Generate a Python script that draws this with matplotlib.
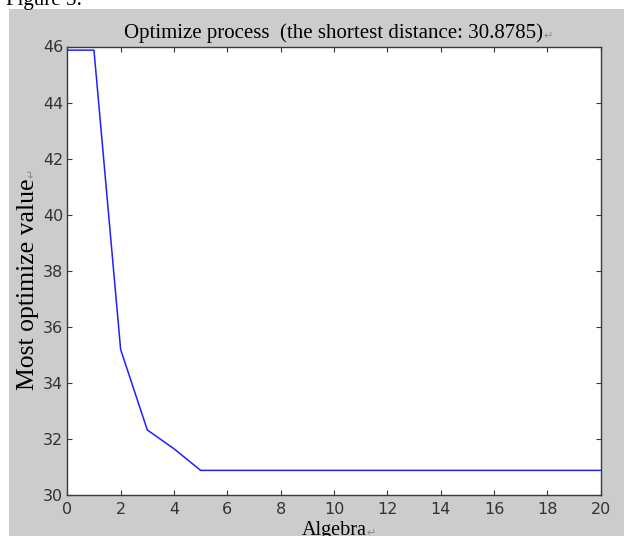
import matplotlib
matplotlib.use("Agg")
import matplotlib.pyplot as plt
from matplotlib.patches import Rectangle

# data
generations = list(range(0, 21))
best_values = [45.87, 45.87, 35.19, 32.32, 31.65, 30.8785, 30.8785, 30.8785, 30.8785,
               30.8785, 30.8785, 30.8785, 30.8785, 30.8785, 30.8785, 30.8785,
               30.8785, 30.8785, 30.8785, 30.8785, 30.8785]
x_ticks = list(range(0, 21, 2))
y_ticks = list(range(30, 47, 2))

W, H = 624, 536
fig = plt.figure(figsize=(W / 100, H / 100), dpi=100, facecolor="white")

# grey MATLAB figure window, kept behind the axes
fig.patches.append(Rectangle((9 / W, 0), 1 - 9 / W, 1 - 9 / H, transform=fig.transFigure,
                             facecolor="#cccccc", edgecolor="none", zorder=-5))

serif = ["Liberation Serif", "DejaVu Sans"]
narrow = ["Liberation Sans Narrow", "DejaVu Sans"]

fig.text(6 / W, 1 - 5 / H, "Figure 5:", family=serif, fontsize=15, va="baseline",
         ha="left", color="black")

ax = fig.add_axes([67.3 / W, 41 / H, 533.4 / W, 448.5 / H])
ax.set_facecolor("white")
ax.plot(generations, best_values, color="#2020ff", lw=1.1)

ax.set_xlim(0, 20)
ax.set_ylim(30, 46)
ax.set_xticks(x_ticks)
ax.set_yticks(y_ticks)
ax.tick_params(direction="in", top=True, right=True, length=3.8, width=0.8,
               color="#3a3a3a", labelcolor="#333333", labelsize=11.5)
ax.tick_params(axis="x", pad=5)
ax.tick_params(axis="y", pad=3)
for lab in ax.get_xticklabels() + ax.get_yticklabels():
    lab.set_family(narrow)
for s in ax.spines.values():
    s.set_color("#3a3a3a")
    s.set_linewidth(1.0)

title = ax.set_title("Optimize process  (the shortest distance: 30.8785)", family=serif,
                     fontsize=15, pad=6)
xlab = ax.set_xlabel("Algebra", family=serif, fontsize=14.5, labelpad=3)
ylab = ax.set_ylabel("Most optimize value", family=serif, fontsize=18.5)
ax.yaxis.set_label_coords(-0.053, 0.47)

# small grey paragraph marks after the texts (as in the pasted document)
mark = dict(family=["DejaVu Sans"], fontsize=8, color="#8a8a8a")
ax.annotate("\u21b5", xy=(1, 0.1), xycoords=title, ha="left", va="bottom", **mark)
ax.annotate("\u21b5", xy=(1, 0.1), xycoords=xlab, ha="left", va="bottom", **mark)
ax.annotate("\u21b5", xy=(0.9, 1), xycoords=ylab, ha="right", va="bottom", rotation=90, **mark)

fig.savefig("out.png", dpi=100, facecolor="white")
